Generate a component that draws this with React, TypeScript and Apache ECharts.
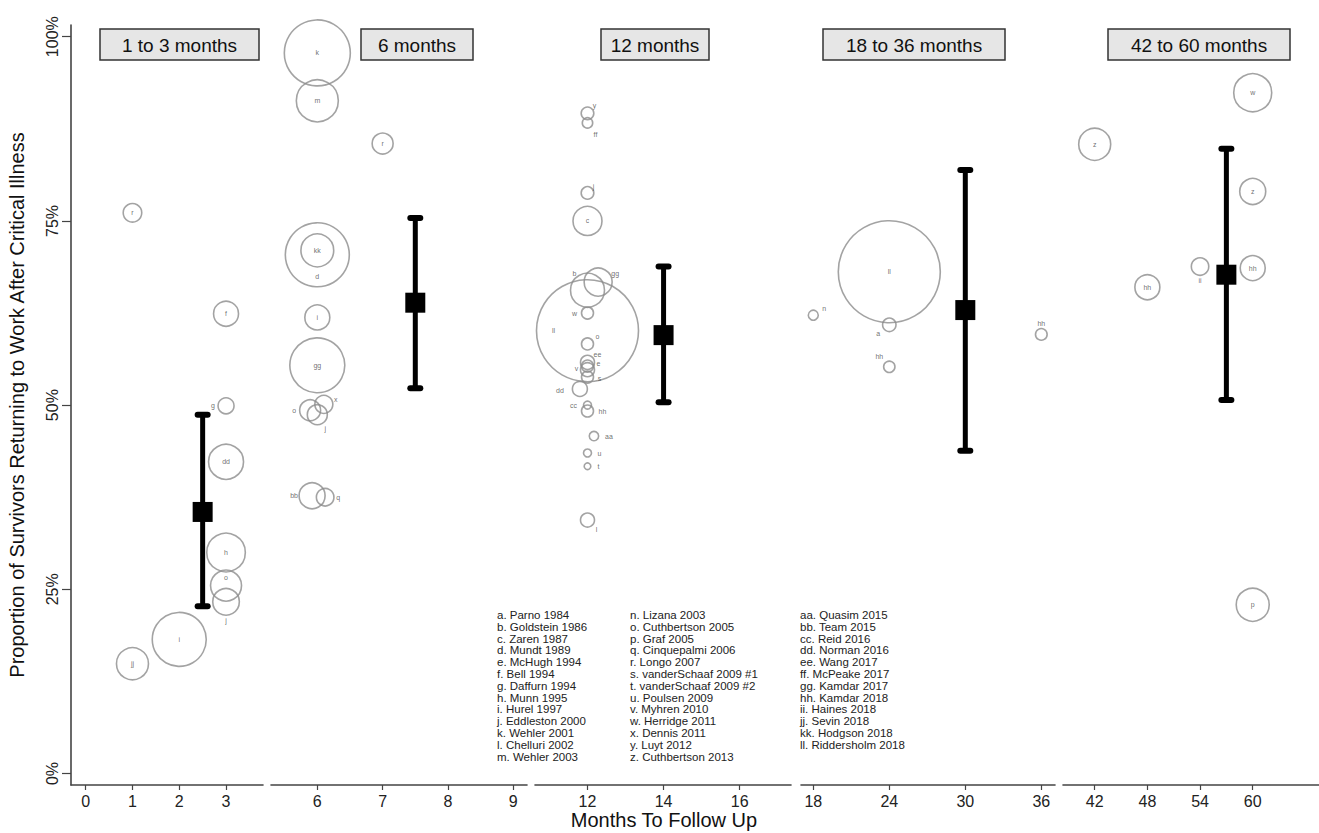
import React, { useEffect, useRef } from 'react';
import * as echarts from 'echarts';

// ---------- data ----------
const panelTitles = ['1 to 3 months', '6 months', '12 months', '18 to 36 months', '42 to 60 months'];
const panelTicks = [[0, 1, 2, 3], [6, 7, 8, 9], [12, 14, 16], [18, 24, 30, 36], [42, 48, 54, 60]];
const pctTicks = [0, 25, 50, 75, 100];
const xTitle = 'Months To Follow Up';
const yTitle = 'Proportion of Survivors Returning to Work After Critical Illness';

const p1Study = ['r', 'f', 'g', 'dd', 'h', 'o', 'j', 'i', 'jj'];
const p1Month = [1, 3, 3, 3, 3, 3, 3, 2, 1];
const p1Pct = [76.1, 62.4, 49.9, 42.3, 30.0, 25.5, 23.3, 18.2, 14.9];
const p1Weight = [86, 156, 64, 306, 372, 240, 177, 729, 256];

const p2Study = ['k', 'm', 'r', 'd', 'kk', 'i', 'gg', 'o', 'j', 'x', 'bb', 'q'];
const p2Month = [6, 6, 7, 6, 6, 6, 6, 5.89, 6, 6.1, 5.92, 6.12];
const p2Pct = [97.8, 91.3, 85.5, 70.4, 71.0, 61.9, 55.4, 49.3, 48.7, 50.1, 37.7, 37.5];
const p2Weight = [1089, 441, 110, 1024, 269, 156, 756, 110, 100, 81, 169, 77];

const p3Study = ['y', 'ff', 'j', 'c', 'b', 'gg', 'w', 'll', 'o', 'ee', 'e', 'v', 's', 'dd', 'cc', 'hh', 'aa', 'u', 't', 'l'];
const p3Month = [12, 12, 12, 12, 12, 12.28, 12, 12, 12, 12, 12, 12, 12, 11.8, 12, 12, 12.17, 12, 12, 12];
const p3Pct = [89.6, 88.3, 78.8, 75.0, 65.6, 66.7, 62.5, 60.1, 58.3, 55.8, 55.3, 54.8, 53.8, 52.2, 50.0, 49.2, 45.8, 43.5, 41.7, 34.4];
const p3Weight = [40, 27, 40, 210, 289, 196, 36, 2601, 36, 49, 36, 49, 36, 56, 16, 36, 22, 16, 11, 49];

const p4Study = ['n', 'll', 'a', 'hh', 'hh'];
const p4Month = [18, 24, 24, 24, 36];
const p4Pct = [62.2, 68.1, 60.9, 55.2, 59.6];
const p4Weight = [25, 2601, 45, 32, 34];

const p5Study = ['z', 'w', 'z', 'hh', 'ii', 'hh', 'p'];
const p5Month = [42, 60, 60, 60, 54, 48, 60];
const p5Pct = [85.4, 92.4, 79.0, 68.6, 68.8, 66.0, 22.9];
const p5Weight = [256, 361, 169, 156, 76, 156, 272];

const meanMonth = [2.5, 7.5, 14, 30, 57];
const meanPct = [35.5, 63.9, 59.5, 62.9, 67.7];
const ciLow = [22.7, 52.3, 50.4, 43.8, 50.7];
const ciHigh = [48.7, 75.4, 68.8, 81.9, 84.8];

const legendCol1 = [
  'a. Parno 1984', 'b. Goldstein 1986', 'c. Zaren 1987', 'd. Mundt 1989', 'e. McHugh 1994',
  'f. Bell 1994', 'g. Daffurn 1994', 'h. Munn 1995', 'i. Hurel 1997', 'j. Eddleston 2000',
  'k. Wehler 2001', 'l. Chelluri 2002', 'm. Wehler 2003',
];
const legendCol2 = [
  'n. Lizana 2003', 'o. Cuthbertson 2005', 'p. Graf 2005', 'q. Cinquepalmi 2006', 'r. Longo 2007',
  's. vanderSchaaf 2009 #1', 't. vanderSchaaf 2009 #2', 'u. Poulsen 2009', 'v. Myhren 2010',
  'w. Herridge 2011', 'x. Dennis 2011', 'y. Luyt 2012', 'z. Cuthbertson 2013',
];
const legendCol3 = [
  'aa. Quasim 2015', 'bb. Team 2015', 'cc. Reid 2016', 'dd. Norman 2016', 'ee. Wang 2017',
  'ff. McPeake 2017', 'gg. Kamdar 2017', 'hh. Kamdar 2018', 'ii. Haines 2018', 'jj. Sevin 2018',
  'kk. Hodgson 2018', 'll. Riddersholm 2018',
];

// ---------- style / layout ----------
const p1LabelOffset = [[0, 0], [0, 0], [-13, 0], [0, 0], [0, 0], [0, -8], [0, 19], [0, 0], [0, 0]];
const p2LabelOffset = [[0, 0], [0, 0], [0, 0], [0, 22], [0, 0], [0, 0], [0, 0], [-16, 0], [8, 14], [12, -5], [-18, 0], [13, 0]];
const p3LabelOffset = [[7, -8], [8, 12], [6, -6], [0, 0], [-13, -17], [17, -9], [-13, 0], [-34, 0], [10, -7], [10, -8], [11, -3], [-11, -1], [12, 1], [-20, 2], [-14, 0], [15, 0], [15, 0], [12, 0], [11, 0], [9, 9]];
const p4LabelOffset = [[11, -7], [0, 0], [-11, 9], [-10, -10], [0, -11]];
const p5LabelOffset = [[0, 0], [0, 0], [0, 0], [0, 0], [0, 14], [0, 0], [0, 0]];

const panels = [
  { study: p1Study, month: p1Month, pct: p1Pct, weight: p1Weight, off: p1LabelOffset },
  { study: p2Study, month: p2Month, pct: p2Pct, weight: p2Weight, off: p2LabelOffset },
  { study: p3Study, month: p3Month, pct: p3Pct, weight: p3Weight, off: p3LabelOffset },
  { study: p4Study, month: p4Month, pct: p4Pct, weight: p4Weight, off: p4LabelOffset },
  { study: p5Study, month: p5Month, pct: p5Pct, weight: p5Weight, off: p5LabelOffset },
];

const gridLayout = [
  { left: 71, width: 192, min: -0.314, max: 3.79 },
  { left: 271, width: 256, min: 5.291, max: 9.21 },
  { left: 535, width: 256, min: 10.62, max: 17.35 },
  { left: 801, width: 254, min: 17.03, max: 37.08 },
  { left: 1063, width: 256, min: 38.39, max: 67.55 },
];
const titleBoxes = [
  { x: 100, w: 159 },
  { x: 361, w: 112 },
  { x: 601, w: 108 },
  { x: 823, w: 182 },
  { x: 1108, w: 182 },
];

const FONT = '"Liberation Sans", Arial, sans-serif';
const LABEL_COLOR = '#4a4a4a';
const GRID_TOP = 25;
const GRID_H = 760;
const Y_MIN = -1.56;
const Y_MAX = 101.59;

function buildOption() {
  const grid = gridLayout.map((g) => ({
    left: g.left,
    width: g.width,
    top: GRID_TOP,
    height: GRID_H,
    containLabel: false,
    outerBoundsMode: 'none',
  }));
  const xAxis = gridLayout.map((g, i) => ({
    type: 'value',
    gridIndex: i,
    min: g.min,
    max: g.max,
    splitLine: { show: false },
    axisLine: { show: true, onZero: false, lineStyle: { color: '#444', width: 1.6 } },
    axisTick: { show: true, length: 5, lineStyle: { color: '#444', width: 1.2 }, customValues: panelTicks[i] },
    axisLabel: { show: true, fontSize: 16, color: '#222', fontFamily: FONT, margin: 8, customValues: panelTicks[i] },
  }));
  const yAxis = gridLayout.map((g, i) => ({
    type: 'value',
    gridIndex: i,
    min: Y_MIN,
    max: Y_MAX,
    show: i === 0,
    splitLine: { show: false },
    axisLine: { show: true, onZero: false, lineStyle: { color: '#444', width: 1.6 } },
    axisTick: { show: true, length: 9, lineStyle: { color: '#444', width: 1.2 }, customValues: pctTicks },
    axisLabel: {
      show: true,
      rotate: 90,
      fontSize: 16,
      color: '#222',
      fontFamily: FONT,
      margin: 11,
      customValues: pctTicks,
      formatter: (v: number) => `${Math.round(v)}%`,
    },
    name: i === 0 ? yTitle : '',
    nameLocation: 'middle',
    nameGap: 44,
    nameTextStyle: { fontSize: 20, color: '#111', fontFamily: FONT },
  }));

  const series: any[] = [];
  panels.forEach((p, i) => {
    series.push({
      type: 'scatter',
      xAxisIndex: i,
      yAxisIndex: i,
      symbol: 'circle',
      itemStyle: { color: 'rgba(0,0,0,0)', borderColor: '#8c8c8c', borderWidth: 1.6 },
      label: {
        show: true,
        position: 'inside',
        fontSize: 7,
        color: LABEL_COLOR,
        fontFamily: FONT,
        formatter: (d: any) => d.name,
      },
      emphasis: { disabled: true },
      data: p.study.map((s, j) => ({
        name: s,
        value: [p.month[j], p.pct[j]],
        symbolSize: 2 * Math.sqrt(p.weight[j]),
        label: { offset: p.off[j], color: LABEL_COLOR },
      })),
      z: 2,
    });
    series.push({
      type: 'custom',
      xAxisIndex: i,
      yAxisIndex: i,
      z: 5,
      data: [[meanMonth[i], meanPct[i], ciLow[i], ciHigh[i]]],
      renderItem: (params: any, api: any) => {
        const c = api.coord([api.value(0), api.value(1)]);
        const lo = api.coord([api.value(0), api.value(2)]);
        const hi = api.coord([api.value(0), api.value(3)]);
        const st = { stroke: '#000', lineWidth: 6, lineCap: 'round' };
        return {
          type: 'group',
          children: [
            { type: 'line', shape: { x1: c[0], y1: hi[1], x2: c[0], y2: lo[1] }, style: { stroke: '#000', lineWidth: 5 } },
            { type: 'line', shape: { x1: c[0] - 5, y1: hi[1], x2: c[0] + 5, y2: hi[1] }, style: st },
            { type: 'line', shape: { x1: c[0] - 5, y1: lo[1], x2: c[0] + 5, y2: lo[1] }, style: st },
            { type: 'rect', shape: { x: c[0] - 10, y: c[1] - 10, width: 20, height: 20 }, style: { fill: '#000' } },
          ],
        };
      },
    });
  });

  const graphic: any[] = [];
  titleBoxes.forEach((b, i) => {
    graphic.push({
      type: 'rect',
      shape: { x: b.x, y: 29, width: b.w, height: 31 },
      style: { fill: '#e6e6e6', stroke: '#333', lineWidth: 1.5 },
      z: 10,
    });
    graphic.push({
      type: 'text',
      x: b.x + b.w / 2,
      y: 45,
      style: { text: panelTitles[i], align: 'center', verticalAlign: 'middle', font: `19px ${FONT}`, fill: '#111' },
      z: 11,
    });
  });
  graphic.push({
    type: 'text',
    x: 664,
    y: 820,
    style: { text: xTitle, align: 'center', verticalAlign: 'middle', font: `20px ${FONT}`, fill: '#111' },
    z: 10,
  });
  const legendCols = [
    { x: 497, lines: legendCol1 },
    { x: 630, lines: legendCol2 },
    { x: 800, lines: legendCol3 },
  ];
  legendCols.forEach((c) => {
    graphic.push({
      type: 'text',
      x: c.x,
      y: 609,
      style: {
        text: c.lines.join('\n'),
        font: `11.5px ${FONT}`,
        lineHeight: 11.8,
        fill: '#222',
        align: 'left',
        verticalAlign: 'top',
      },
      z: 10,
    });
  });

  return {
    animation: false,
    backgroundColor: '#fff',
    textStyle: { fontFamily: FONT },
    grid,
    xAxis,
    yAxis,
    series,
    graphic,
  };
}

export default function App() {
  const ref = useRef<HTMLDivElement>(null);
  useEffect(() => {
    if (!ref.current) return;
    const chart = echarts.init(ref.current, undefined, { renderer: 'svg' });
    chart.setOption(buildOption() as any);
    return () => chart.dispose();
  }, []);
  return (
    <div
      ref={ref}
      style={{ position: 'fixed', left: 0, top: 0, width: 1319, height: 833, background: '#fff' }}
    />
  );
}
